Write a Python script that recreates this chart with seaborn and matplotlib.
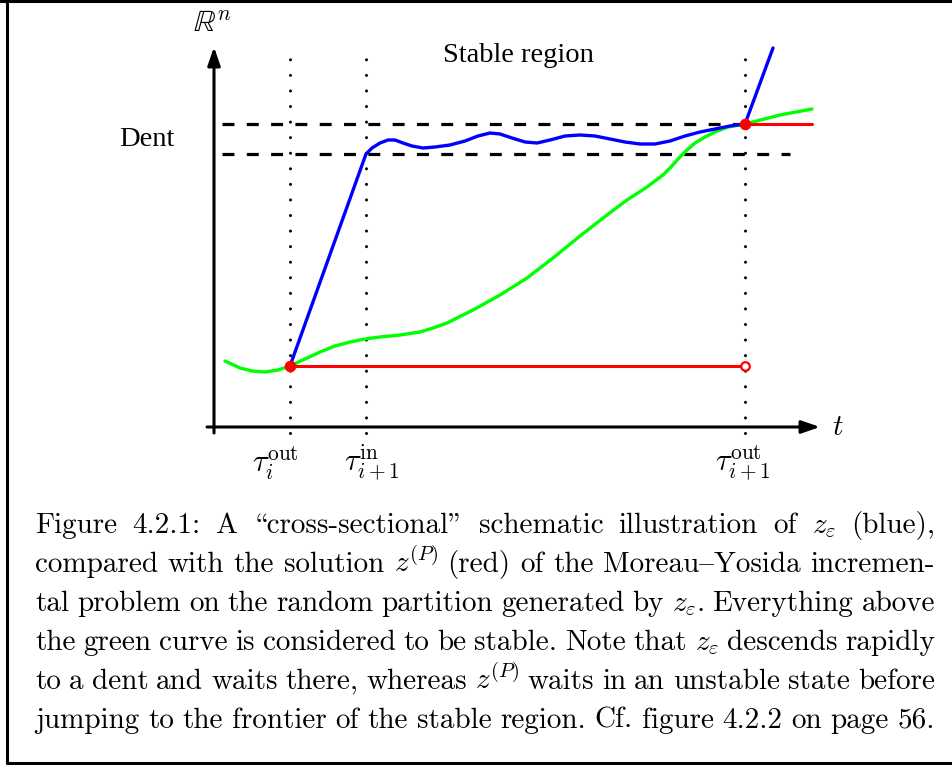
import numpy as np
import pandas as pd
import matplotlib
matplotlib.use("Agg")
import matplotlib.pyplot as plt
from matplotlib.lines import Line2D
import seaborn as sns

# ---------------- data (schematic units: t along time axis, z along R^n) -------------
tau_t = [76, 152, 531]
tau_labels = [r"$\tau_i^{\mathrm{out}}$", r"$\tau_{i+1}^{\mathrm{in}}$", r"$\tau_{i+1}^{\mathrm{out}}$"]
tau_label_t = [61, 158, 529]

dent_high = 303
dent_low = 273
unstable_level = 61

green_t = [11, 26, 38, 51, 64, 76, 91, 106, 121, 136, 151, 166, 186, 206, 219, 233, 259, 286, 313,
           339, 366, 393, 413, 433, 441, 449, 457, 465, 473, 481, 491, 501, 514, 531, 566, 598]
green_z = [66, 59, 56, 55, 57, 61, 68, 75, 81, 85, 88, 90, 92, 95, 99, 104, 117, 132, 149,
           169, 191, 212, 227, 240, 246, 252, 260, 269, 277, 284, 290, 295, 300, 303, 312, 318]

blue_t = [76, 152, 158, 166, 174, 181, 189, 198, 209, 221, 236, 251, 264, 276, 286, 298, 311,
          323, 336, 351, 366, 381, 396, 411, 426, 441, 456, 471, 486, 501, 516, 531, 559]
blue_z = [61, 273, 279, 284, 287, 287, 284, 281, 279, 280, 282, 286, 291, 294, 293, 289, 285,
          284, 287, 291, 292, 291, 288, 285, 283, 283, 286, 291, 295, 298, 301, 303, 379]

red_low_t = [76, 531]
red_low_z = [61, 61]
red_high_t = [531, 598]
red_high_z = [303, 303]

# cmr10 uses the TeX OT1 layout: "\" is the opening double quote, '"' the closing one,
# "{" the en dash
caption_lines = [
    "Figure 4.2.1:  A \\cross-sectional\" schematic illustration of $z_\\varepsilon$ (blue),",
    "compared with the solution $z^{(P)}$ (red) of the Moreau{Yosida incremen-",
    "tal problem on the random partition generated by $z_\\varepsilon$. Everything above",
    "the green curve is considered to be stable. Note that $z_\\varepsilon$ descends rapidly",
    "to a dent and waits there, whereas $z^{(P)}$ waits in an unstable state before",
    "jumping to the frontier of the stable region. Cf. figure 4.2.2 on page 56.",
]

# ---------------- styling -------------
sns.set_theme(style="white")
plt.rcParams["mathtext.fontset"] = "cm"
plt.rcParams["axes.unicode_minus"] = False
plt.rcParams["lines.scale_dashes"] = False
plt.rcParams["text.color"] = "black"

W, H = 953, 765
fig = plt.figure(figsize=(W / 100, H / 100), dpi=100)
ax = fig.add_axes([0, 0, 1, 1])
ax.set_xlim(-214, W - 214)
ax.set_ylim(427 - H, 427)
ax.axis("off")

# dotted verticals
for t in tau_t:
    ax.plot([t, t], [-6, 378], color="black", lw=2.2, ls=(0, (0.01, 11.2)),
            dash_capstyle="round", zorder=1)

# dent dashed lines
ax.plot([8, 531], [dent_high, dent_high], color="black", lw=2.3, ls=(0, (8.6, 8.9)), zorder=1)
ax.plot([8, 576], [dent_low, dent_low], color="black", lw=2.3, ls=(0, (8.6, 8.9)), zorder=1)

# axes arrows
arrow = dict(arrowstyle="-|>,head_length=1.1,head_width=0.38", lw=2.2, color="black",
             shrinkA=0, shrinkB=0, mutation_scale=10)
ax.annotate("", xy=(606, 0), xytext=(-7, 0), arrowprops=arrow)
ax.annotate("", xy=(0, 380), xytext=(0, -6), arrowprops=arrow)

# curves
sns.lineplot(x=green_t, y=green_z, ax=ax, color="#00ff00", lw=2.4, sort=False, estimator=None, zorder=2)
sns.lineplot(x=blue_t, y=blue_z, ax=ax, color="#0000ff", lw=2.4, sort=False, estimator=None, zorder=3)
sns.lineplot(x=red_low_t, y=red_low_z, ax=ax, color="#ff0000", lw=2.2, sort=False, estimator=None, zorder=4)
sns.lineplot(x=red_high_t, y=red_high_z, ax=ax, color="#ff0000", lw=2.2, sort=False, estimator=None, zorder=4)

sns.scatterplot(x=[red_low_t[0], red_high_t[0]], y=[red_low_z[0], red_high_z[0]], ax=ax,
                color="#ff0000", s=70, edgecolor="#ff0000", linewidth=0, zorder=5)
ax.scatter([red_low_t[1]], [red_low_z[1]], s=38, facecolor="white", edgecolor="#ff0000",
           linewidth=1.6, zorder=5)

# labels in picture
ax.text(-2, 404, r"$\mathbb{R}^n$", fontsize=22, ha="center", va="center")
ax.text(304, 372, "Stable region", fontsize=20.5, family="Liberation Serif", ha="center", va="center")
ax.text(-67, 287, "Dent", fontsize=20.5, family="Liberation Serif", ha="center", va="center")
ax.text(624, 0, r"$t$", fontsize=21, ha="center", va="center")
for lt, lab in zip(tau_label_t, tau_labels):
    ax.text(lt, -36, lab, fontsize=22, ha="center", va="center")

# frame
for xs, ys in [([0, 1], [1 - 1.2 / H, 1 - 1.2 / H]),
               ([7 / W, 7 / W], [1, 1 - 763 / H]),
               ([7 / W, 1], [1 - 763 / H, 1 - 763 / H])]:
    fig.add_artist(Line2D(xs, ys, transform=fig.transFigure, color="black", lw=2.2))

# justified caption
cap_family = ["cmr10", "DejaVu Serif"]
cap_fs = 21
left, right = 35, 935
baselines = [533, 572, 611, 650, 689, 728]
fig.canvas.draw()
renderer = fig.canvas.get_renderer()
for i, line in enumerate(caption_lines):
    words = [w for w in line.split(" ") if w]
    texts = [fig.text(0, 0, w, fontsize=cap_fs, family=cap_family, ha="left", va="baseline")
             for w in words]
    widths = [t.get_window_extent(renderer).width for t in texts]
    gap = (right - left - sum(widths)) / (len(words) - 1)
    x = left
    for t, w in zip(texts, widths):
        t.set_position((x / W, 1 - baselines[i] / H))
        x += w + gap

fig.savefig("out.png", dpi=100)
